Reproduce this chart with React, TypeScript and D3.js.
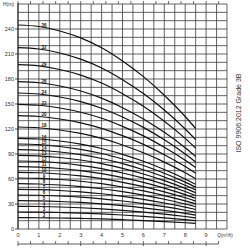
import React, { useRef, useEffect } from "react";
import * as d3 from "d3";

// flow points (m³/h) where the per-stage head was read
const flowPoints = [0, 1, 2, 3, 4, 5, 6, 7, 8, 8.5];
// head per stage (m)
const stageHead = [6.8, 6.75, 6.6, 6.37, 6.04, 5.6, 5.08, 4.46, 3.75, 3.35];
// number of stages for each curve
const stages = [36, 32, 29, 26, 24, 22, 20, 18, 16, 15, 14, 13, 12, 11, 10, 9, 8, 7, 6, 5, 4, 3, 2];

const yTicks = [0, 30, 60, 90, 120, 150, 180, 210, 240];
const xTicks = [0, 1, 2, 3, 4, 5, 6, 7, 8, 9];
const litreTicks = d3.range(0, 170, 10); // l/min secondary axis

const App = () => {
  const svgRef = useRef<SVGSVGElement>(null);

  useEffect(() => {
    const svg = d3.select(svgRef.current);
    svg.selectAll("*").remove();

    const x = d3.scaleLinear().domain([0, 10]).range([18, 227]);
    const y = d3.scaleLinear().domain([0, 270]).range([229, 4]);
    // 1 l/min = 0.06 m³/h
    const xLit = (v: number) => x(v * 0.06);
    const headAt = d3.scaleLinear().domain(flowPoints).range(stageHead);

    const font = "Liberation Sans, Arial, sans-serif";
    const grid = svg.append("g");

    grid
      .selectAll("line.h")
      .data(d3.range(0, 271, 10))
      .join("line")
      .attr("x1", x(0))
      .attr("x2", x(10))
      .attr("y1", (d) => y(d))
      .attr("y2", (d) => y(d))
      .attr("stroke", "#3c3c3c")
      .attr("stroke-width", 0.8);

    grid
      .selectAll("line.v")
      .data(d3.range(0, 10.01, 0.5))
      .join("line")
      .attr("x1", (d) => x(d))
      .attr("x2", (d) => x(d))
      .attr("y1", y(0))
      .attr("y2", y(270))
      .attr("stroke", "#3c3c3c")
      .attr("stroke-width", 0.8);

    // left axis
    svg
      .append("line")
      .attr("x1", x(0))
      .attr("x2", x(0))
      .attr("y1", y(270) - 1)
      .attr("y2", y(0))
      .attr("stroke", "#222")
      .attr("stroke-width", 1);

    svg
      .selectAll("line.yt")
      .data(yTicks)
      .join("line")
      .attr("x1", x(0) - 3)
      .attr("x2", x(0))
      .attr("y1", (d) => y(d))
      .attr("y2", (d) => y(d))
      .attr("stroke", "#222")
      .attr("stroke-width", 0.8);

    svg
      .selectAll("text.yl")
      .data(yTicks)
      .join("text")
      .attr("x", x(0) - 4)
      .attr("y", (d) => y(d) + 2)
      .attr("text-anchor", "end")
      .style("font-family", font)
      .style("font-size", "5.5px")
      .attr("fill", "#333")
      .text((d) => d);

    svg
      .append("text")
      .attr("x", x(0) - 4)
      .attr("y", y(270) + 2)
      .attr("text-anchor", "end")
      .style("font-family", font)
      .style("font-size", "5px")
      .attr("fill", "#333")
      .text("H(m)");

    svg
      .selectAll("text.xl")
      .data(xTicks)
      .join("text")
      .attr("x", (d) => x(d))
      .attr("y", 237)
      .attr("text-anchor", "middle")
      .style("font-family", font)
      .style("font-size", "5.5px")
      .attr("fill", "#333")
      .text((d) => d);

    svg
      .append("text")
      .attr("x", x(10) - 2)
      .attr("y", 237)
      .attr("text-anchor", "middle")
      .style("font-family", font)
      .style("font-size", "4.5px")
      .attr("fill", "#333")
      .text("Q(m³/h)");

    // secondary flow axes (l/min)
    svg
      .append("line")
      .attr("x1", xLit(0))
      .attr("x2", xLit(160))
      .attr("y1", 244)
      .attr("y2", 244)
      .attr("stroke", "#333")
      .attr("stroke-width", 0.8);

    svg
      .selectAll("line.bt")
      .data(litreTicks)
      .join("line")
      .attr("x1", (d) => xLit(d))
      .attr("x2", (d) => xLit(d))
      .attr("y1", (d) => (d % 50 === 0 ? 246 : 244))
      .attr("y2", 241)
      .attr("stroke", "#333")
      .attr("stroke-width", 0.7);

    svg
      .selectAll("line.tt")
      .data(litreTicks)
      .join("line")
      .attr("x1", (d) => xLit(d))
      .attr("x2", (d) => xLit(d))
      .attr("y1", y(270))
      .attr("y2", y(270) - 3)
      .attr("stroke", "#333")
      .attr("stroke-width", 0.7);

    // pump curves
    const line = d3
      .line<number>()
      .x((d, i) => x(flowPoints[i]))
      .y((d) => y(d))
      .curve(d3.curveMonotoneX);

    svg
      .selectAll("path.curve")
      .data(stages)
      .join("path")
      .attr("class", "curve")
      .attr("d", (n) => line(stageHead.map((h) => h * n)))
      .attr("fill", "none")
      .attr("stroke", "#111")
      .attr("stroke-width", 1.2);

    svg
      .selectAll("text.stage")
      .data(stages)
      .join("text")
      .attr("x", x(1.25))
      .attr("y", (n) => y(n * headAt(1.25)) - 1)
      .attr("text-anchor", "middle")
      .style("font-family", font)
      .style("font-size", "4.5px")
      .style("font-weight", "bold")
      .attr("fill", "#111")
      .text((n) => n);

    svg
      .append("text")
      .attr("transform", "translate(241,113) rotate(-90)")
      .attr("text-anchor", "middle")
      .style("font-family", font)
      .style("font-size", "7px")
      .attr("fill", "#333")
      .text("ISO  9906:2012    Grade 3B");
  }, []);

  return (
    <div style={{ position: "absolute", left: 0, top: 0, width: 250, height: 250, background: "#fff" }}>
      <svg ref={svgRef} width={250} height={250} />
    </div>
  );
};

export default App;
